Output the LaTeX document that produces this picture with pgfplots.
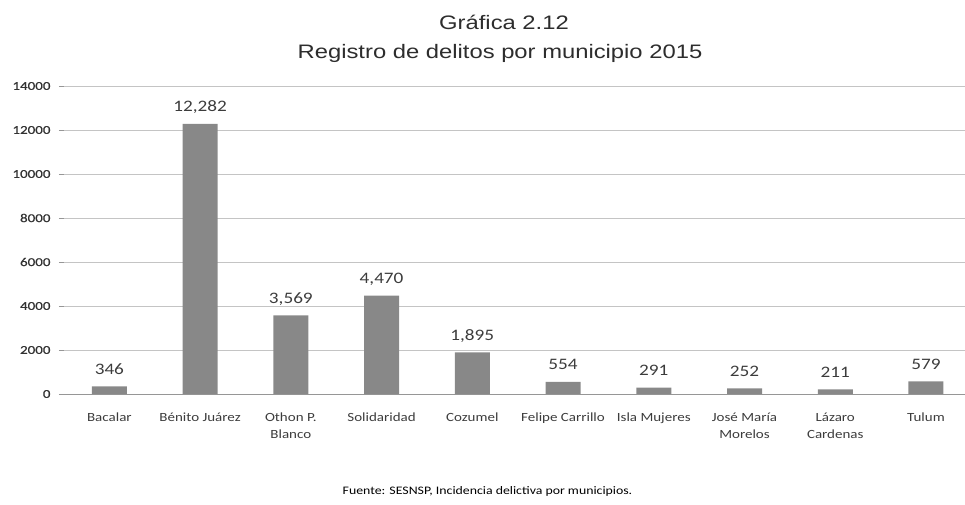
\documentclass[border=0pt]{standalone}
\usepackage{pgfplots}
\pgfplotsset{compat=1.18}
\usepackage{fontspec}
\setmainfont[FakeStretch=1.2]{Carlito}
\newfontfamily\ytickfont[FakeStretch=1.25, FakeBold=0.6]{Carlito}
\newfontfamily\titlefont[FakeStretch=1.22]{Liberation Sans}
\definecolor{bargray}{RGB}{136,136,136}
\definecolor{gridgray}{RGB}{196,196,196}
\definecolor{axisgray}{RGB}{150,150,150}
\definecolor{txt}{RGB}{60,60,60}
\definecolor{ytxt}{RGB}{50,50,50}
\definecolor{titlecol}{RGB}{45,45,45}
\pgfplotstableread{
x y
0 346
1 12282
2 3569
3 4470
4 1895
5 554
6 291
7 252
8 211
9 579
}\datatable
\begin{document}
\begin{tikzpicture}
\begin{axis}[
  at={(0pt,0pt)}, anchor=south west,
  scale only axis, width=901pt, height=308pt,
  xmin=-0.5, xmax=9.43, ymin=0, ymax=14000,
  ybar, bar width=35pt,
  axis x line*=bottom, axis y line*=left,
  y axis line style={draw=none},
  x axis line style={axisgray, line width=0.9pt},
  xtick={0,...,9},
  xticklabels={Bacalar, Bénito Juárez, Othon P.\\Blanco, Solidaridad, Cozumel, Felipe Carrillo, Isla Mujeres, José María\\Morelos, Lázaro\\Cardenas, Tulum},
  major x tick style={draw=none},
  xticklabel style={align=center, font=\fontsize{12.5}{17}\selectfont, text=txt, yshift=-10pt},
  extra x ticks={-0.5,0.5,1.5,2.5,3.5,4.5,5.5,6.5,7.5,8.5},
  extra x tick labels={},
  extra x tick style={grid=none, tick align=outside, major tick length=5pt, major tick style={axisgray, line width=0.8pt, draw=axisgray}},
  ytick={0,2000,4000,6000,8000,10000,12000,14000},
  yticklabels={0,2000,4000,6000,8000,10000,12000,14000},
  scaled y ticks=false,
  ymajorgrids,
  grid style={gridgray, line width=0.9pt},
  ytick style={axisgray, line width=0.8pt},
  tick align=outside, major tick length=5pt,
  yticklabel style={font=\ytickfont\fontsize{12}{14}\selectfont, text=ytxt, xshift=-5pt},
  /pgf/number format/assume math mode=true,
  /pgf/number format/1000 sep={},
  nodes near coords={\pgfmathprintnumber[fixed, precision=0, 1000 sep={,}]{\pgfplotspointmeta}},
  nodes near coords style={anchor=base, yshift=12pt, font=\fontsize{16}{19}\selectfont, text=txt},
]
\addplot[fill=bargray, draw=none, bar shift=0pt] table[x=x, y=y] {\datatable};
\end{axis}
\node[anchor=base, font=\titlefont\fontsize{19.5}{23}\selectfont, text=titlecol] at (440pt,364pt) {Gráfica 2.12};
\node[anchor=base, font=\titlefont\fontsize{19.5}{23}\selectfont, text=titlecol] at (436pt,335pt) {Registro de delitos por municipio 2015};
\node[anchor=base, font=\fontsize{11.5}{13}\selectfont, text=black] at (423.5pt,-100pt) {Fuente: SESNSP, Incidencia delictiva por municipios.};
\pgfresetboundingbox
\useasboundingbox (-64pt,-110pt) rectangle (901pt,394pt);
\end{tikzpicture}
\end{document}
